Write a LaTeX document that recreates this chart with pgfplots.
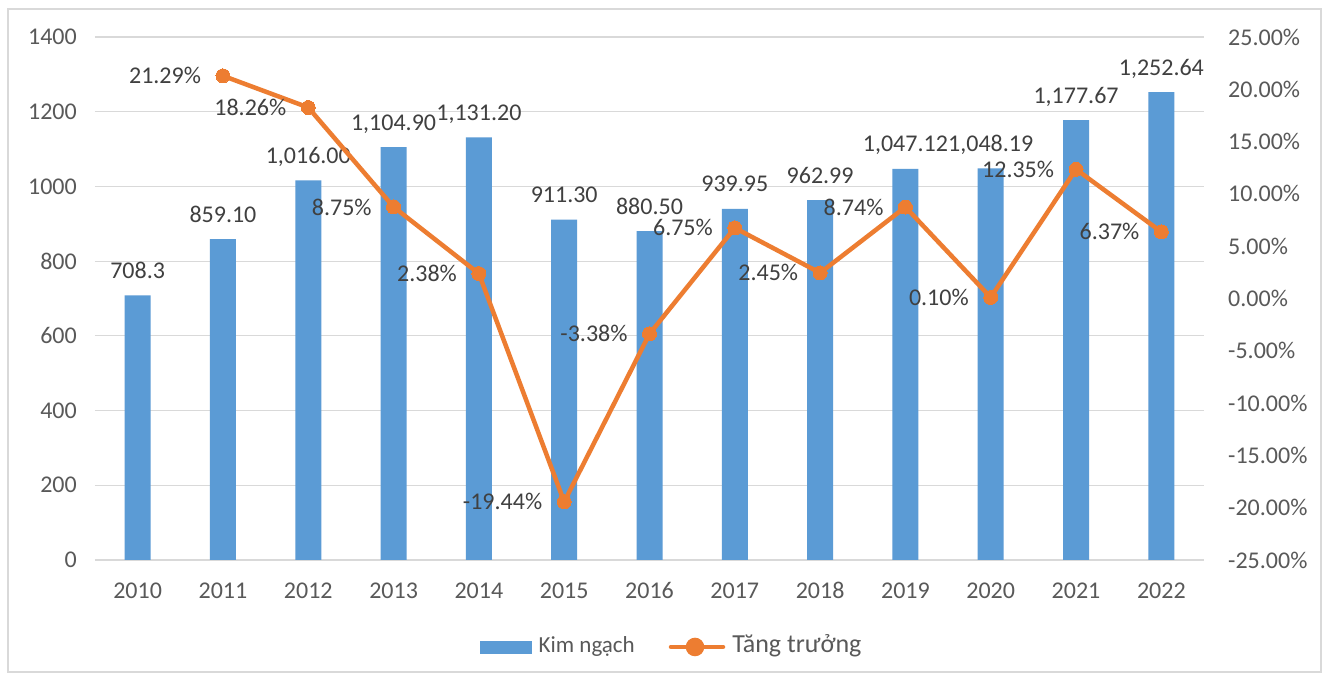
\documentclass[border=0pt]{standalone}
\usepackage{pgfplots}
\pgfplotsset{compat=1.18}
\usepackage{pgfplotstable}
\usepackage{fontspec}
\setmainfont{Carlito}
\definecolor{kblue}{HTML}{5B9BD5}
\definecolor{korange}{HTML}{ED7D31}
\definecolor{tgray}{HTML}{595959}
\definecolor{lgray}{HTML}{404040}
\definecolor{ggray}{HTML}{D9D9D9}

\pgfplotstableread{
x y lab
0 708.3 708.3
1 859.10 859.10
2 1016.00 1,016.00
3 1104.90 1,104.90
4 1131.20 1,131.20
5 911.30 911.30
6 880.50 880.50
7 939.95 939.95
8 962.99 962.99
9 1047.12 1,047.12
10 1048.19 1,048.19
11 1177.67 1,177.67
12 1252.64 1,252.64
}\kimngach

\pgfplotstableread{
x y lab
1 21.29 21.29\%
2 18.26 18.26\%
3 8.75 8.75\%
4 2.38 2.38\%
5 -19.44 -19.44\%
6 -3.38 -3.38\%
7 6.75 6.75\%
8 2.45 2.45\%
9 8.74 8.74\%
10 0.10 0.10\%
11 12.35 12.35\%
12 6.37 6.37\%
}\tangtruong

\newcommand{\lf}{\fontsize{24}{28}\selectfont}

\begin{document}
\begin{tikzpicture}
\useasboundingbox (0,0) rectangle (1325pt,679pt);
\fill[white] (0,0) rectangle (1325pt,679pt);
\draw[ggray, line width=2pt] (8pt,7pt) rectangle (1321pt,670pt);

\begin{axis}[
  at={(95pt,119pt)}, anchor=south west,
  scale only axis, width=1109pt, height=523pt,
  xmin=-0.5, xmax=12.5, ymin=0, ymax=1400,
  clip=false,
  axis line style={draw=none},
  major tick length=0pt,
  xtick={0,...,12},
  xticklabels={2010,2011,2012,2013,2014,2015,2016,2017,2018,2019,2020,2021,2022},
  ytick={0,200,...,1400},
  yticklabels={0,200,400,600,800,1000,1200,1400},
  ymajorgrids, grid style={ggray, line width=1.2pt},
  tick label style={font=\lf, text=tgray},
  xticklabel style={anchor=base, inner sep=0pt, yshift=-39pt},
  yticklabel style={anchor=east, inner sep=0pt, xshift=-18pt},
]
\addplot[ybar, bar width=26pt, bar shift=0pt, fill=kblue, draw=none] table[x=x, y=y] {\kimngach};
\addplot[draw=none, mark=none, nodes near coords, point meta=explicit symbolic,
  nodes near coords style={anchor=base, inner sep=0pt, yshift=17pt, font=\lf, text=lgray}]
  table[x=x, y=y, meta=lab] {\kimngach};
\end{axis}

\begin{axis}[
  at={(95pt,119pt)}, anchor=south west,
  scale only axis, width=1109pt, height=523pt,
  xmin=-0.5, xmax=12.5, ymin=-25, ymax=25,
  clip=false,
  axis x line=none, axis y line*=right,
  axis line style={draw=none},
  major tick length=0pt,
  ytick={-25,-20,...,25},
  yticklabels={-25.00\%,-20.00\%,-15.00\%,-10.00\%,-5.00\%,0.00\%,5.00\%,10.00\%,15.00\%,20.00\%,25.00\%},
  yticklabel style={anchor=west, inner sep=0pt, xshift=24pt, font=\lf, text=tgray},
  legend style={at={(0.3472,-0.1663)}, anchor=west, draw=none, fill=none, inner sep=0pt,
    legend columns=2, cells={anchor=center},
    nodes={inner sep=0pt, text height=18pt, text depth=6pt, text=tgray},
    /tikz/column 1/.style={column sep=7pt},
    /tikz/column 2/.style={column sep=32pt},
    /tikz/column 3/.style={column sep=5pt}},
]
\addlegendimage{legend image code/.code={\fill[kblue] (0pt,-6pt) rectangle (51pt,6pt);}}
\addlegendentry{\fontsize{23}{26}\selectfont Kim ngạch}
\addplot[korange, line width=4.5pt, mark=*, mark size=7pt,
  mark options={fill=korange, draw=korange, line width=0pt},
  nodes near coords, point meta=explicit symbolic,
  nodes near coords style={anchor=east, inner sep=0pt, xshift=-22pt, font=\lf, text=lgray},
  legend image code/.code={\draw[korange, line width=4.5pt, line cap=round] (2pt,0pt) -- (54pt,0pt); \fill[korange] (26pt,0pt) circle (7pt); \path (0pt,0pt) (56pt,0pt);}]
  table[x=x, y=y, meta=lab] {\tangtruong};
\addlegendentry{\fontsize{26}{30}\selectfont Tăng trưởng}
\end{axis}
\end{tikzpicture}
\end{document}
